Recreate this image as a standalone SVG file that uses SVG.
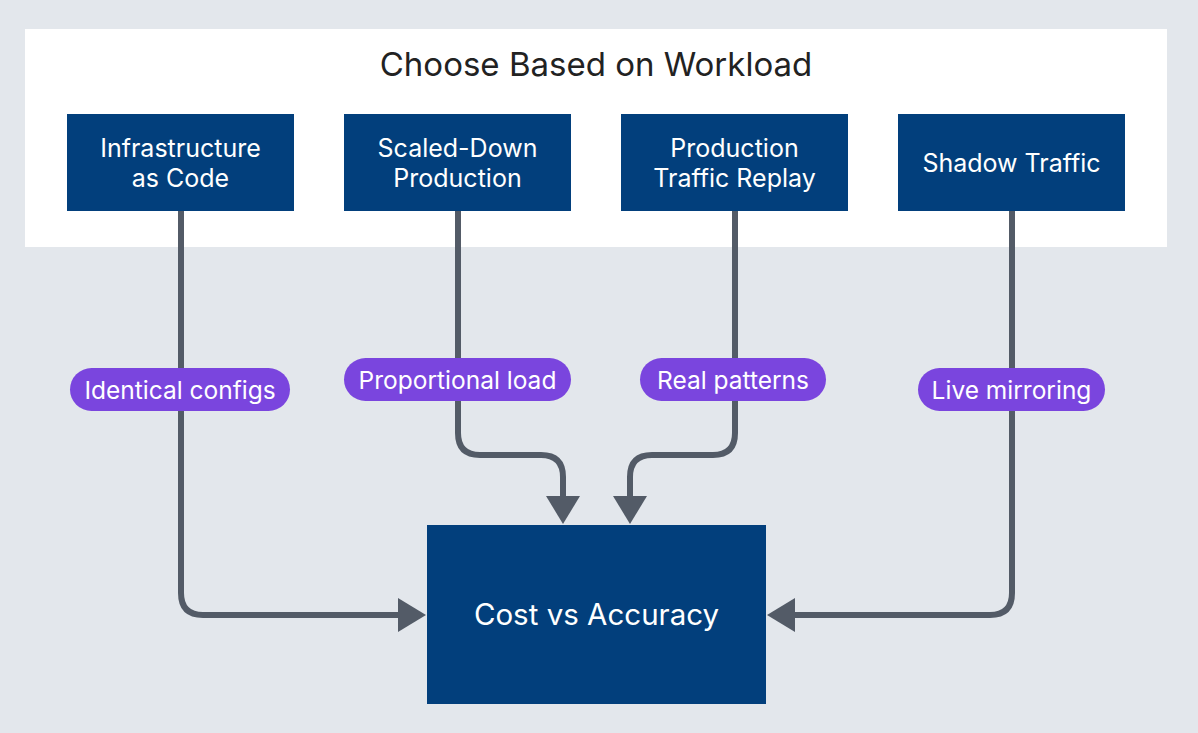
<svg xmlns="http://www.w3.org/2000/svg" width="1198" height="733" viewBox="0 0 1198 733">
<style>
.node{fill:#023f7c}
.nt{fill:#ffffff;font-family:Inter,"Liberation Sans",sans-serif;font-size:25px;text-anchor:middle}
.big{font-size:29.5px}
.pill{fill:#7a45de}
.pt{fill:#ffffff;font-family:Inter,"Liberation Sans",sans-serif;font-size:24.5px;text-anchor:middle}
.conn{fill:none;stroke:#535b67;stroke-width:6}
</style>
<defs>
<marker id="ah" markerUnits="userSpaceOnUse" markerWidth="28" markerHeight="34" viewBox="0 0 28 34" refX="0" refY="17" orient="auto">
<path d="M0 0 L28 17 L0 34 Z" fill="#535b67"/>
</marker>
</defs>
<rect width="1198" height="733" fill="#e3e7ec"/>
<g id="panel">
<rect x="25" y="29" width="1142" height="218" fill="#ffffff"/>
<text x="596" y="76" font-family="Inter,'Liberation Sans',sans-serif" font-size="33" fill="#222222" text-anchor="middle">Choose Based on Workload</text>
</g>
<g id="connectors">
<path class="conn" d="M181 211 V593 Q181 615 203 615 H398" marker-end="url(#ah)"/>
<path class="conn" d="M458 211 V433 Q458 455 480 455 H541 Q563 455 563 477 V496" marker-end="url(#ah)"/>
<path class="conn" d="M735 211 V433 Q735 455 713 455 H652 Q630 455 630 477 V496" marker-end="url(#ah)"/>
<path class="conn" d="M1012 211 V593 Q1012 615 990 615 H795" marker-end="url(#ah)"/>
</g>
<g id="node-iac">
<rect class="node" x="67" y="114" width="227" height="97"/>
<text class="nt" x="180.5" y="157">Infrastructure</text>
<text class="nt" x="180.5" y="187">as Code</text>
</g>
<g id="node-scaled">
<rect class="node" x="344" y="114" width="227" height="97"/>
<text class="nt" x="457.5" y="157">Scaled-Down</text>
<text class="nt" x="457.5" y="187">Production</text>
</g>
<g id="node-replay">
<rect class="node" x="621" y="114" width="227" height="97"/>
<text class="nt" x="734.5" y="157">Production</text>
<text class="nt" x="734.5" y="187">Traffic Replay</text>
</g>
<g id="node-shadow">
<rect class="node" x="898" y="114" width="227" height="97"/>
<text class="nt" x="1011.5" y="172">Shadow Traffic</text>
</g>
<g id="label-identical">
<rect class="pill" x="70" y="368" width="220" height="43" rx="21.5"/>
<text class="pt" x="180" y="398.5">Identical configs</text>
</g>
<g id="label-proportional">
<rect class="pill" x="344" y="358" width="227" height="43" rx="21.5"/>
<text class="pt" x="457.5" y="388.5">Proportional load</text>
</g>
<g id="label-real">
<rect class="pill" x="640" y="358" width="186" height="43" rx="21.5"/>
<text class="pt" x="733" y="388.5">Real patterns</text>
</g>
<g id="label-live">
<rect class="pill" x="918" y="368" width="187" height="43" rx="21.5"/>
<text class="pt" x="1011.5" y="398.5">Live mirroring</text>
</g>
<g id="node-cost">
<rect class="node" x="427" y="525" width="339" height="179"/>
<text class="nt big" x="596.5" y="625">Cost vs Accuracy</text>
</g>
</svg>
